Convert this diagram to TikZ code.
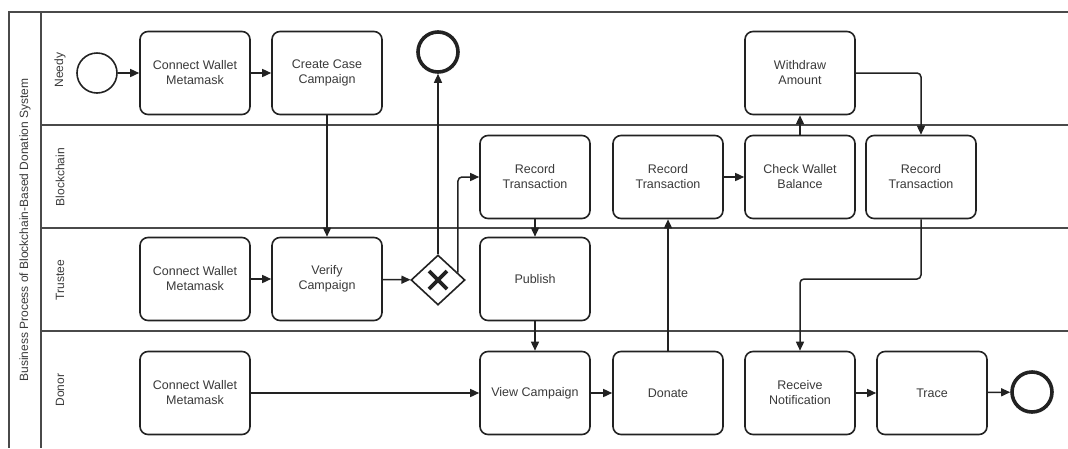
\documentclass[tikz,border=0pt]{standalone}
\usepackage{fontspec}
\setmainfont{Liberation Sans}
\usetikzlibrary{arrows.meta,shapes.geometric,calc}
\definecolor{poolline}{HTML}{4A4A4A}
\definecolor{shapeline}{HTML}{222222}
\definecolor{labeltext}{HTML}{3A3A3A}
\begin{document}
\begin{tikzpicture}[x=1pt,y=-1pt,
  lanesep/.style={draw=poolline,line width=1.8pt},
  task/.style={draw=shapeline,line width=1.6pt,rounded corners=8pt,fill=white,
    minimum width=110pt,minimum height=83pt,inner sep=0pt,align=center,
    text=labeltext,font=\fontsize{12.5}{15}\selectfont},
  startev/.style={circle,draw=shapeline,line width=1.6pt,minimum size=40pt,inner sep=0pt},
  endev/.style={circle,draw=shapeline,line width=3.6pt,minimum size=40pt,inner sep=0pt},
  gateway/.style={diamond,draw=shapeline,line width=1.6pt,fill=white,
    minimum width=54pt,minimum height=50pt,inner sep=0pt},
  flow/.style={draw=shapeline,line width=1.5pt,
    -{Triangle[length=9pt,width=8pt]}},
  lanelabel/.style={rotate=90,text=labeltext,font=\fontsize{12}{14}\selectfont},
]
\useasboundingbox (0,0) rectangle (1068,448);

% pool frame and lanes
\draw[lanesep] (1068,12) -- (9,12) -- (9,448);
\draw[lanesep] (41,12) -- (41,448);
\draw[lanesep] (41,125) -- (1068,125);
\draw[lanesep] (41,228) -- (1068,228);
\draw[lanesep] (41,331) -- (1068,331);

\node[lanelabel] (pooltitle) at (25,230) {Business Process of Blockchain-Based Donation System};
\node[lanelabel] (lneedy) at (60,70) {Needy};
\node[lanelabel] (lchain) at (60,177) {Blockchain};
\node[lanelabel] (ltrust) at (60,280) {Trustee};
\node[lanelabel] (ldonor) at (60,390) {Donor};

% Needy lane
\node[startev] (start) at (97,73) {};
\node[task] (cwN) at (195,73) {Connect Wallet\\Metamask};
\node[task] (ccc) at (327,73) {Create Case\\Campaign};
\node[endev] (endN) at (438,52) {};
\node[task] (wa) at (800,73) {Withdraw\\Amount};

% Blockchain lane
\node[task] (rt1) at (535,177) {Record\\Transaction};
\node[task] (rt2) at (668,177) {Record\\Transaction};
\node[task] (cwb) at (800,177) {Check Wallet\\Balance};
\node[task] (rt3) at (921,177) {Record\\Transaction};

% Trustee lane
\node[task] (cwT) at (195,279) {Connect Wallet\\Metamask};
\node[task] (vc) at (327,279) {Verify\\Campaign};
\node[gateway] (gw) at (438,280) {};
\draw[shapeline,line width=3.8pt] ($(gw)+(-9,-9)$) -- ($(gw)+(9,9)$)
  ($(gw)+(-9,9)$) -- ($(gw)+(9,-9)$);
\node[task] (pub) at (535,279) {Publish};

% Donor lane
\node[task] (cwD) at (195,393) {Connect Wallet\\Metamask};
\node[task] (view) at (535,393) {View Campaign};
\node[task] (don) at (668,393) {Donate};
\node[task] (rn) at (800,393) {Receive\\Notification};
\node[task] (trace) at (932,393) {Trace};
\node[endev] (endD) at (1032,392) {};

% sequence flows
\draw[flow] (start) -- (cwN);
\draw[flow] (cwN) -- (ccc);
\draw[flow] (ccc) -- (vc);
\draw[flow] (cwT) -- (vc);
\draw[flow] (vc) -- (gw);
\draw[flow] (gw.north) -- (endN.south);
\draw[flow,rounded corners=4pt] (gw.20) |- (rt1.west);
\draw[flow] (rt1) -- (pub);
\draw[flow] (pub) -- (view);
\draw[flow] (cwD) -- (view);
\draw[flow] (view) -- (don);
\draw[flow] (don) -- (rt2);
\draw[flow] (rt2) -- (cwb);
\draw[flow] (cwb) -- (wa);
\draw[flow,rounded corners=4pt] (wa.east) -| (rt3.north);
\coordinate (rtbend) at (921,279);
\draw[flow,rounded corners=4pt] (rt3.south) -- (rtbend) -| (rn.north);
\draw[flow] (rn) -- (trace);
\draw[flow] (trace) -- (endD);
\end{tikzpicture}
\end{document}
